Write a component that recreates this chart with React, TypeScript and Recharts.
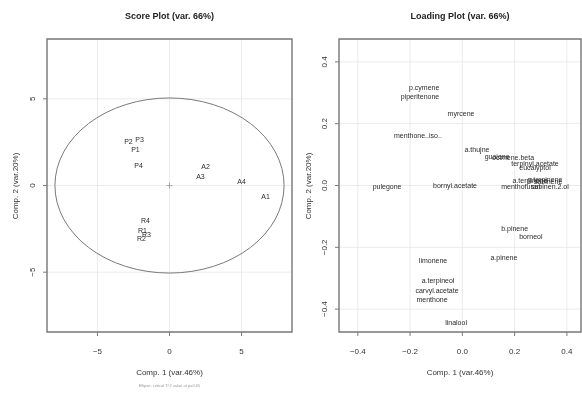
import React from 'react';
import { ScatterChart, Scatter, XAxis, YAxis, CartesianGrid, ReferenceArea } from 'recharts';

const FONT = '"Liberation Sans", Arial, Helvetica, sans-serif';

// ---- Score plot data ----
const scoreNames = ['P1', 'P2', 'P3', 'P4', 'A1', 'A2', 'A3', 'A4', 'R1', 'R2', 'R3', 'R4'];
const scoreComp1 = [-2.36, -2.85, -2.08, -2.15, 6.67, 2.5, 2.15, 5.0, -1.87, -1.94, -1.6, -1.67];
const scoreComp2 = [2.07, 2.53, 2.64, 1.15, -0.63, 1.09, 0.52, 0.23, -2.6, -3.05, -2.8, -2.0];
const scoreTicks = [-5, 0, 5];
const scoreDomainX = [-8.5, 8.5];
const scoreDomainY = [-8.45, 8.45];
const ellipseRadiusX = 7.95;
const ellipseRadiusY = 5.05;
const scoreCenter = [{ x: 0, y: 0 }];

// ---- Loading plot data ----
const loadNames = [
  'p.cymene', 'piperitenone', 'myrcene', 'menthone..iso..', 'a.thujne', 'guaiene', 'ocimene.beta',
  'terpinyl.acetate', 'eucalyptol', 'a.terpinene', 'g.terpinene', 'sabinene', 'menthofuran',
  'sabinen.2.ol', 'bornyl.acetate', 'pulegone', 'b.pinene', 'borneol', 'a.pinene', 'limonene',
  'a.terpineol', 'carvyl.acetate', 'menthone', 'linalool',
];
const loadComp1 = [
  -0.146, -0.162, -0.005, -0.17, 0.056, 0.133, 0.194,
  0.278, 0.278, 0.259, 0.316, 0.328, 0.224,
  0.335, -0.028, -0.288, 0.2, 0.262, 0.159, -0.112,
  -0.093, -0.097, -0.116, -0.024,
];
const loadComp2 = [
  0.316, 0.287, 0.232, 0.161, 0.116, 0.094, 0.09,
  0.071, 0.058, 0.016, 0.019, 0.013, -0.003,
  -0.003, 0.0, -0.003, -0.139, -0.165, -0.232, -0.242,
  -0.306, -0.339, -0.368, -0.442,
];
const loadTicks = [-0.4, -0.2, 0, 0.2, 0.4];
const loadDomainX = [-0.472, 0.454];
const loadDomainY = [-0.474, 0.474];

const scoreData = scoreNames.map((name, i) => ({ name, x: scoreComp1[i], y: scoreComp2[i] }));
const loadData = loadNames.map((name, i) => ({ name, x: loadComp1[i], y: loadComp2[i] }));

const AXIS_COLOR = '#7a7a7a';
const GRID_COLOR = '#e6e6e6';
const TEXT_COLOR = '#2a2a2a';

const fmtScore = (v: number) => (v < 0 ? '\u2212' + Math.abs(v) : String(v));
const fmtLoad = (v: number) => (v < 0 ? '\u2212' + Math.abs(v).toFixed(1) : v.toFixed(1));

function makeXTick(fmt: (v: number) => string) {
  return (props: any) => {
    const { x, y, payload } = props;
    return (
      <text x={x} y={y + 16} textAnchor="middle" fontSize={8} fill="#333" fontFamily={FONT}>
        {fmt(payload.value)}
      </text>
    );
  };
}

function makeYTick(fmt: (v: number) => string) {
  return (props: any) => {
    const { x, y, payload } = props;
    const x0 = x - 6;
    return (
      <text
        x={x0}
        y={y}
        textAnchor="middle"
        fontSize={8}
        fill="#333"
        fontFamily={FONT}
        transform={`rotate(-90 ${x0} ${y})`}
      >
        {fmt(payload.value)}
      </text>
    );
  };
}

const LabelShape = (props: any) => {
  const { cx, cy, payload } = props;
  return (
    <text
      x={cx}
      y={cy}
      textAnchor="middle"
      dominantBaseline="central"
      fontSize={7}
      fill={TEXT_COLOR}
      fontFamily={FONT}
    >
      {payload.name}
    </text>
  );
};

const CrossShape = (props: any) => {
  const { cx, cy } = props;
  return (
    <g stroke="#999" strokeWidth={0.8}>
      <line x1={cx - 3} y1={cy} x2={cx + 3} y2={cy} />
      <line x1={cx} y1={cy - 3} x2={cx} y2={cy + 3} />
    </g>
  );
};

const EllipseShape = (p: any) => (
  <ellipse
    cx={p.x + p.width / 2}
    cy={p.y + p.height / 2}
    rx={Math.abs(p.width) / 2}
    ry={Math.abs(p.height) / 2}
    fill="none"
    stroke="#7a7a7a"
    strokeWidth={1}
  />
);

export default function App() {
  return (
    <div
      style={{
        position: 'absolute',
        left: 0,
        top: 0,
        width: 582,
        height: 394,
        background: '#fff',
        overflow: 'hidden',
        opacity: 0.999,
        willChange: 'transform',
      }}
    >
      <div style={{ position: 'absolute', left: 0, top: 0 }}>
        <ScatterChart width={300} height={394} margin={{ top: 39, right: 8, bottom: 32, left: 17 }}>
          <CartesianGrid stroke={GRID_COLOR} strokeWidth={0.8} />
          <XAxis
            type="number"
            dataKey="x"
            domain={scoreDomainX}
            ticks={scoreTicks}
            allowDataOverflow
            height={30}
            tickSize={4}
            stroke={AXIS_COLOR}
            axisLine={false}
            tickLine={{ stroke: AXIS_COLOR }}
            tick={makeXTick(fmtScore)}
          />
          <YAxis
            type="number"
            dataKey="y"
            domain={scoreDomainY}
            ticks={scoreTicks}
            allowDataOverflow
            width={30}
            tickSize={4}
            stroke={AXIS_COLOR}
            axisLine={false}
            tickLine={{ stroke: AXIS_COLOR }}
            tick={makeYTick(fmtScore)}
          />
          <ReferenceArea
            x1={-ellipseRadiusX}
            x2={ellipseRadiusX}
            y1={-ellipseRadiusY}
            y2={ellipseRadiusY}
            shape={EllipseShape}
          />
          <ReferenceArea
            x1={scoreDomainX[0]}
            x2={scoreDomainX[1]}
            y1={scoreDomainY[0]}
            y2={scoreDomainY[1]}
            fill="none"
            fillOpacity={0}
            stroke={AXIS_COLOR}
            strokeWidth={1.4}
          />
          <Scatter data={scoreCenter} shape={CrossShape} isAnimationActive={false} />
          <Scatter data={scoreData} shape={LabelShape} isAnimationActive={false} />
        </ScatterChart>
      </div>
      <div style={{ position: 'absolute', left: 290, top: 0 }}>
        <ScatterChart width={292} height={394} margin={{ top: 39, right: 1, bottom: 32, left: 19 }}>
          <CartesianGrid stroke={GRID_COLOR} strokeWidth={0.8} />
          <XAxis
            type="number"
            dataKey="x"
            domain={loadDomainX}
            ticks={loadTicks}
            allowDataOverflow
            height={30}
            tickSize={4}
            stroke={AXIS_COLOR}
            axisLine={false}
            tickLine={{ stroke: AXIS_COLOR }}
            tick={makeXTick(fmtLoad)}
          />
          <YAxis
            type="number"
            dataKey="y"
            domain={loadDomainY}
            ticks={loadTicks}
            allowDataOverflow
            width={30}
            tickSize={4}
            stroke={AXIS_COLOR}
            axisLine={false}
            tickLine={{ stroke: AXIS_COLOR }}
            tick={makeYTick(fmtLoad)}
          />
          <ReferenceArea
            x1={loadDomainX[0]}
            x2={loadDomainX[1]}
            y1={loadDomainY[0]}
            y2={loadDomainY[1]}
            fill="none"
            fillOpacity={0}
            stroke={AXIS_COLOR}
            strokeWidth={1.4}
          />
          <Scatter data={loadData} shape={LabelShape} isAnimationActive={false} />
        </ScatterChart>
      </div>
      <svg
        width={582}
        height={394}
        style={{ position: 'absolute', left: 0, top: 0, pointerEvents: 'none' }}
        fontFamily={FONT}
      >
        <text x={169.5} y={19} textAnchor="middle" fontSize={9} fontWeight="bold" fill="#222">
          Score Plot (var. 66%)
        </text>
        <text x={460} y={19} textAnchor="middle" fontSize={9} fontWeight="bold" fill="#222">
          Loading Plot (var. 66%)
        </text>
        <text x={169.5} y={375} textAnchor="middle" fontSize={8} fill="#333">
          Comp. 1 (var.46%)
        </text>
        <text x={460} y={375} textAnchor="middle" fontSize={8} fill="#333">
          Comp. 1 (var.46%)
        </text>
        <text x={169.5} y={387} textAnchor="middle" fontSize={4} fill="#999">
          Ellipse: critical T^2 value at p=0.05
        </text>
        <text x={18} y={186} textAnchor="middle" fontSize={8} fill="#333" transform="rotate(-90 18 186)">
          Comp. 2 (var.20%)
        </text>
        <text x={311} y={186} textAnchor="middle" fontSize={8} fill="#333" transform="rotate(-90 311 186)">
          Comp. 2 (var.20%)
        </text>
      </svg>
    </div>
  );
}
